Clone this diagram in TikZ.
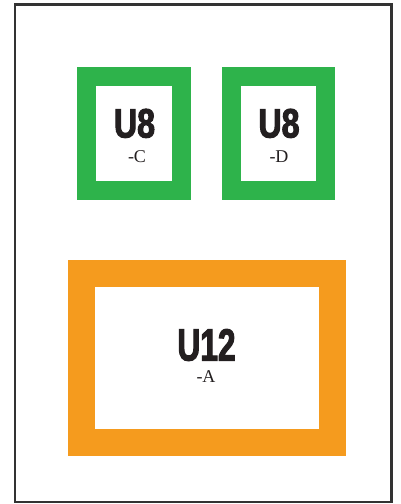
\documentclass[tikz,border=0pt]{standalone}
\usepackage{fontspec}
\setmainfont{Liberation Serif}
\newfontfamily\boldcond[FakeStretch=0.8,FakeBold=2.5,BoldFont={* Bold},BoldFeatures={FakeStretch=0.8,FakeBold=2.5}]{Liberation Sans}
\definecolor{gfill}{HTML}{2EB34B}
\definecolor{ofill}{HTML}{F59B1E}
\definecolor{frame}{HTML}{333333}
\definecolor{ink}{HTML}{231F20}
\tikzset{
  gbox/.style={draw=gfill, line width=19pt, fill=white, rectangle, inner sep=0pt},
  obox/.style={draw=ofill, line width=26.7pt, fill=white, rectangle, inner sep=0pt},
  big/.style={text=ink, inner sep=0pt, text depth=0pt, font=\boldcond\bfseries\fontsize{41}{41}\selectfont},
  bigger/.style={text=ink, inner sep=0pt, text depth=0pt, font=\boldcond\bfseries\fontsize{45}{45}\selectfont},
  sub/.style={text=ink, inner sep=0pt, text height=11pt, font=\fontsize{18}{18}\selectfont},
}
\begin{document}
\begin{tikzpicture}[x=1pt,y=-1pt]
\useasboundingbox (0,0) rectangle (400,504);
\fill[white] (0,0) rectangle (400,504);
\node[draw=frame, line width=2.6pt, minimum width=376.5pt, minimum height=497.5pt, inner sep=0pt] (frm) at (203.25,253.25) {};
\node[gbox, minimum width=94.7pt, minimum height=113.2pt] (c) at (134.15,133.4) {};
\node[gbox, minimum width=94.3pt, minimum height=113.2pt] (d) at (278.35,133.4) {};
\node[obox, minimum width=251pt, minimum height=169.4pt] (a) at (207.2,358) {};
\node[big, anchor=base] (ct) at (134.5,137.5) {\scalebox{0.98}[1]{U8}};
\node[sub, anchor=base] (cs) at (137,162) {-C};
\node[big, anchor=base] (dt) at (279,137.5) {\scalebox{0.98}[1]{U8}};
\node[sub, anchor=base] (ds) at (279,162) {-D};
\node[bigger, anchor=base] (at) at (206.5,360.5) {\scalebox{0.88}[1]{U12}};
\node[sub, anchor=base] (as) at (206,382) {-A};
\end{tikzpicture}
\end{document}
